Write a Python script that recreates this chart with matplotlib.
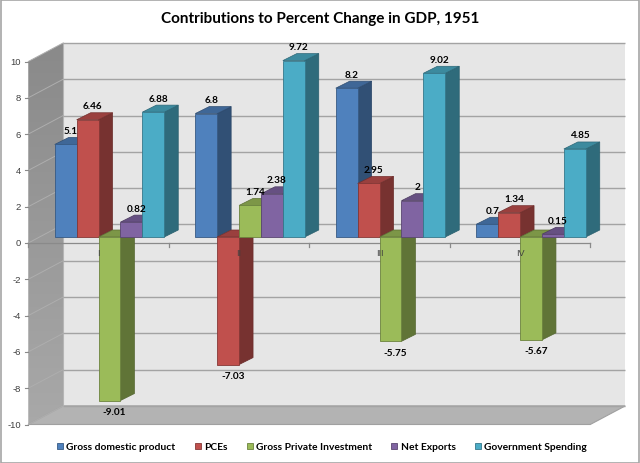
import matplotlib
matplotlib.use("Agg")
import matplotlib.pyplot as plt
from matplotlib.patches import Polygon, Rectangle, Patch
from matplotlib.colors import to_rgb
import numpy as np

# ---------------- data ----------------
title = "Contributions to Percent Change in GDP, 1951"
quarters = ["I", "II", "III", "IV"]
series_names = ["Gross domestic product", "PCEs", "Gross Private Investment",
                "Net Exports", "Government Spending"]
gdp = [5.1, 6.8, 8.2, 0.7]
pces = [6.46, -7.03, 2.95, 1.34]
gpi = [-9.01, 1.74, -5.75, -5.67]
net_exports = [0.82, 2.38, 2, 0.15]
gov = [6.88, 9.72, 9.02, 4.85]
y_ticks = list(range(-10, 11, 2))

series = [gdp, pces, gpi, net_exports, gov]
colors = ["#4F81BD", "#C0504D", "#9BBB59", "#8064A2", "#4BACC6"]

# ---------------- layout ----------------
W, H = 640, 464
fig = plt.figure(figsize=(W / 100, H / 100), dpi=100)
ax = fig.add_axes([0, 0, 1, 1])
PX_U = 140.5   # pixels per category
PX_V = 18.15   # pixels per value unit
X0 = 98.5      # pixel x of first category centre (front plane)
Y0 = 244.0     # pixel y of zero (front plane)
XLIM = (-X0 / PX_U, (W - X0) / PX_U)
YLIM = ((Y0 - H) / PX_V, Y0 / PX_V)
ax.axis("off")


def off(dxp, dyp):
    """pixel offset (right, down) -> data offset"""
    return dxp / PX_U, -dyp / PX_V


def shade(c, f):
    r, g, b = to_rgb(c)
    return (r * f, g * f, b * f)


bu, bv = off(35, -18.6)   # back wall depth
pu, pv = off(11, -6)      # bar front plane
du, dv = off(14, -7)      # bar depth

umin, umax = -0.5, len(quarters) - 0.5
vmin, vmax = min(y_ticks), max(y_ticks)

# walls
ax.add_patch(Rectangle((umin + bu, vmin + bv), umax - umin, vmax - vmin,
                       fc="#e6e6e6", ec="none", zorder=1))
side_poly = Polygon([(umin, vmax), (umin, vmin), (umin + bu, vmin + bv),
                     (umin + bu, vmax + bv)], closed=True,
                    fc="none", ec="none", zorder=1)
ax.add_patch(side_poly)
grad = np.linspace(0.54, 0.66, 64).reshape(-1, 1)
grad = np.dstack([grad, grad, grad])
im = ax.imshow(grad, extent=[umin, umin + bu, vmin, vmax + bv], origin="upper",
               aspect="auto", zorder=1, interpolation="bilinear")
im.set_clip_path(side_poly)
ax.add_patch(Polygon([(umin, vmin), (umax, vmin), (umax + bu, vmin + bv),
                      (umin + bu, vmin + bv)], closed=True,
                     fc="#b3b3b3", ec="#a0a0a0", lw=0.8, zorder=1.5))
ax.plot([umin + bu, umin + bu], [vmin + bv, vmax + bv], color="#b5b5b5", lw=0.8, zorder=1.6)

tx, _ = off(-7, 0)
tk, _ = off(-3, 0)
for t in y_ticks:
    ax.plot([umin + bu, umax + bu], [t + bv, t + bv], color="#a3a3a3", lw=1.0,
            zorder=2, solid_capstyle="butt")
    ax.plot([umin, umin + bu], [t, t + bv], color="#aeaeae", lw=0.7, zorder=2)
    ax.plot([umin + tk, umin], [t, t], color="#8a8a8a", lw=0.8, zorder=2)
    ax.text(umin + tx, t, str(t), ha="right", va="center", fontsize=6.8,
            family="Liberation Sans", color="#404040")

# category axis on front plane
_, tick_len = off(0, 4)
ax.plot([umin, umax], [0, 0], color="#8a8a8a", lw=0.9, zorder=2.5)
for b in np.arange(umin, umax + 0.01, 1.0):
    ax.plot([b, b], [0, tick_len], color="#8a8a8a", lw=0.9, zorder=2.5)
_, cat_dy = off(0, 10)
for i, q in enumerate(quarters):
    ax.text(i, cat_dy, q, ha="center", va="center", fontsize=6.5,
            family="Liberation Sans", color="#404040", zorder=40)

# bars
n = len(series)
bw = 21.9 / PX_U
lab_dx, _ = off(5, 0)
_, lab_up = off(0, -14)
_, lab_dn = off(0, 11)
label_texts = []
for k, (vals, c) in enumerate(zip(series, colors)):
    zb = 3 + 3 * k
    lefts = [i + pu + (k - n / 2) * bw for i in range(len(vals))]
    for left, val in zip(lefts, vals):
        right = left + bw
        topv = pv + max(val, 0)
        botv = pv + min(val, 0)
        ax.add_patch(Polygon([(right, botv), (right, topv), (right + du, topv + dv),
                              (right + du, botv + dv)], closed=True,
                             fc=shade(c, 0.62), ec=shade(c, 0.55), lw=0.5, zorder=zb))
        ax.add_patch(Polygon([(left, topv), (right, topv), (right + du, topv + dv),
                              (left + du, topv + dv)], closed=True,
                             fc=shade(c, 0.8), ec=shade(c, 0.6), lw=0.5, zorder=zb + 1))
        if val >= 0:
            ly = topv + lab_up
        else:
            ly = botv + lab_dn
        label_texts.append(ax.text(left + bw / 2 + lab_dx, ly, f"{val:g}", ha="center",
                                   va="center", fontsize=9, fontweight="bold",
                                   family="Lato", color="black", zorder=30))
    ax.bar(lefts, vals, width=bw, bottom=pv, align="edge", color=c,
           edgecolor=shade(c, 0.7), linewidth=0.6, zorder=zb + 2)

ax.set_xlim(*XLIM)
ax.set_ylim(*YLIM)

# title
ttl = fig.text(320.5 / W, 1 - 18.5 / H, title, ha="center", va="center",
               fontsize=12, fontweight="bold", family="Lato", color="black")

renderer = fig.canvas.get_renderer()


def fit(t, target_w):
    w = t.get_window_extent(renderer).width
    t.set_fontsize(t.get_fontsize() * target_w / w)


fit(ttl, 317)
probe = ax.text(0, 0, "6.46", fontsize=9, fontweight="bold", family="Lato")
w = probe.get_window_extent(renderer).width
lab_fs = 9 * 20 / w
probe.remove()
for t in label_texts:
    t.set_fontsize(lab_fs)

probe = fig.text(0, 0, "Gross domestic product", fontsize=8, fontweight="bold", family="Lato")
w = probe.get_window_extent(renderer).width
leg_fs = 8 * 110 / w
probe.remove()
fs_px = leg_fs * 100 / 72
handles = [Patch(fc=c, ec=shade(c, 0.7), lw=0.6) for c in colors]
fig.legend(handles, series_names, loc="center", bbox_to_anchor=(322 / W, 1 - 448 / H),
           ncol=5, frameon=False, handlelength=6 / fs_px, handleheight=6 / fs_px,
           handletextpad=3.5 / fs_px, columnspacing=19 / fs_px, borderpad=0,
           prop={"family": "Lato", "weight": "bold", "size": leg_fs})

# outer border
fig.patches.append(Rectangle((0.5 / W, 0.5 / H), 1 - 1.5 / W, 1 - 1.5 / H,
                             transform=fig.transFigure, fill=False,
                             ec="#a6a6a6", lw=1.2))

fig.savefig("out.png", dpi=100)
